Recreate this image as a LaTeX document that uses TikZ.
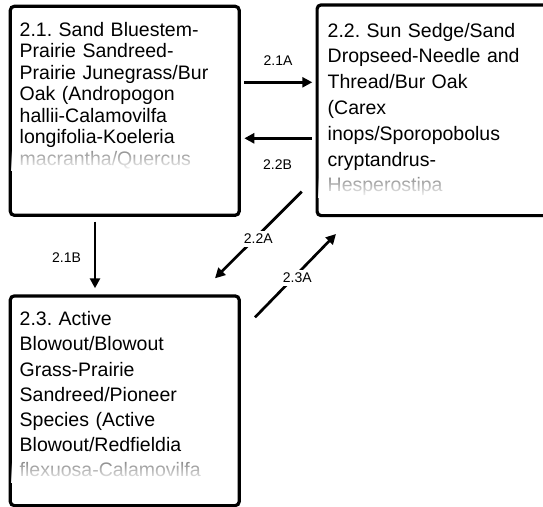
\documentclass[tikz,border=0pt]{standalone}
\usepackage{fontspec}
\setmainfont{Liberation Sans}
\usetikzlibrary{arrows.meta,fadings}
\tikzfading[name=fadedown, top color=transparent!100, bottom color=transparent!0]
\frenchspacing
\begin{document}
\begin{tikzpicture}[x=1pt,y=-1pt,
  box/.style={draw, line width=3.2pt, rounded corners=4pt, inner sep=0pt, anchor=north west},
  bodytext/.style={anchor=base west, inner sep=0pt, text width=225pt, align=left},
  lab/.style={font=\fontsize{14}{16}\selectfont, inner sep=1pt},
  arr/.style={line width=2.7pt, -{Triangle[length=10pt,width=10pt]}},
  fadebox/.style={fill=white, path fading=fadedown}
]
\useasboundingbox (0,0) rectangle (543,506);

% boxes
\node[box, minimum width=228.9pt, minimum height=209pt] (b1) at (8.7,4.7) {};
\node[box, minimum width=245pt, minimum height=210.7pt] (b2) at (315.5,3.3) {};
\node[box, minimum width=228.9pt, minimum height=209.7pt] (b3) at (8.7,294.3) {};

% texts
\node[bodytext, font=\fontsize{19.5}{21.5}\selectfont] (t1) at (19.5,36)
 {2.1. Sand Bluestem-\\Prairie Sandreed-\\Prairie Junegrass/Bur\\Oak (Andropogon\\hallii-Calamovilfa\\longifolia-Koeleria\\{\color{black!45}macrantha/Quercus}};
\fill[fadebox] (11,150) rectangle (235,171);

\node[bodytext, font=\fontsize{19.5}{25.8}\selectfont] (t2) at (327.5,37)
 {2.2. Sun Sedge/Sand\\Dropseed-Needle and\\Thread/Bur Oak\\(Carex\\inops/Sporopobolus\\cryptandrus-\\{\color{black!45}Hesperostipa}};
\fill[fadebox] (318,177) rectangle (543,198);

\node[bodytext, font=\fontsize{19.5}{25.2}\selectfont] (t3) at (19.5,325.7)
 {2.3. Active\\Blowout/Blowout\\Grass-Prairie\\Sandreed/Pioneer\\Species (Active\\Blowout/Redfieldia\\{\color{black!45}flexuosa-Calamovilfa}};
\fill[fadebox] (11,462) rectangle (235,483);

% connector end points
\coordinate (a1s) at (244.3,82.3);
\coordinate (a1e) at (312.3,82.3);
\coordinate (a2s) at (311.7,138.3);
\coordinate (a2e) at (244.3,138.3);
\coordinate (a3s) at (301.7,191.7);
\coordinate (a3e) at (215,278.3);
\coordinate (a4s) at (255,317.3);
\coordinate (a4e) at (336,234);
\coordinate (a5s) at (95,221.7);
\coordinate (a5e) at (95,288.3);

\draw[arr] (a1s) -- (a1e);
\draw[arr] (a2s) -- (a2e);
\draw[arr] (a3s) -- (a3e);
\draw[arr] (a4s) -- (a4e);
\draw[arr] (a5s) -- (a5e);

% labels
\node[lab] (l1) at (278,61) {2.1A};
\node[lab] (l2) at (277.5,165) {2.2B};
\node[lab, fill=white, inner sep=3pt] (l3) at (258.3,239) {2.2A};
\node[lab, fill=white, inner sep=3pt] (l4) at (297.3,278) {2.3A};
\node[lab] (l5) at (66.5,258) {2.1B};
\end{tikzpicture}
\end{document}
